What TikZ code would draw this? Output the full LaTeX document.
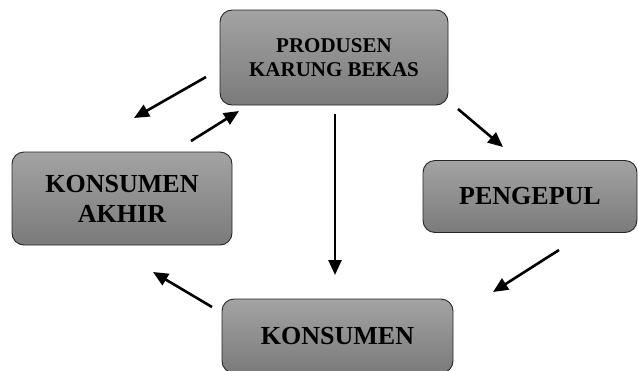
\documentclass[tikz,border=0pt]{standalone}
\usepackage{fontspec}
\setmainfont{Liberation Serif}
\usepackage{tikz}
\usetikzlibrary{arrows.meta, positioning}

\begin{document}
\begin{tikzpicture}[
			x=1pt, y=-1pt,
			block/.style={rectangle, draw=black!85, line width=0.9pt, top color=black!36, bottom color=black!52, align=center, rounded corners=12pt, font=\fontsize{26}{30}\selectfont\bfseries},
			arrow/.style={-{Triangle[length=15pt, width=13pt]}, line width=2.6pt}
		]
		\useasboundingbox (0,0) rectangle (638,370);
		\node[block, minimum width=228pt, minimum height=95pt, font=\fontsize{21}{24}\selectfont\bfseries] (produsen) at (334,57.5) {PRODUSEN\\KARUNG BEKAS};
		\node[block, minimum width=220pt, minimum height=93pt] (akhir) at (122,198.5) {KONSUMEN\\AKHIR};
		\node[block, minimum width=214pt, minimum height=72pt] (pengepul) at (530,196.5) {PENGEPUL};
		\node[block, minimum width=231pt, minimum height=74pt] (konsumen) at (337.5,336) {KONSUMEN};
		
		% free arrow ends
		\coordinate (p1) at (206,77);   \coordinate (p2) at (134,118);
		\coordinate (a1) at (191,141);  \coordinate (a2) at (239,111);
		\coordinate (v1) at (335,114);  \coordinate (v2) at (335,275);
		\coordinate (g1) at (458,109);  \coordinate (g2) at (503,147);
		\coordinate (k1) at (559,250);  \coordinate (k2) at (493,292);
		\coordinate (b1) at (212,307);  \coordinate (b2) at (153,272);
		
		\draw[arrow] (p1) -- (p2);
		\draw[arrow] (a1) -- (a2);
		\draw[arrow] (v1) -- (v2);
		\draw[arrow] (g1) -- (g2);
		\draw[arrow] (k1) -- (k2);
		\draw[arrow] (b1) -- (b2);
		\end{tikzpicture}
\end{document}
